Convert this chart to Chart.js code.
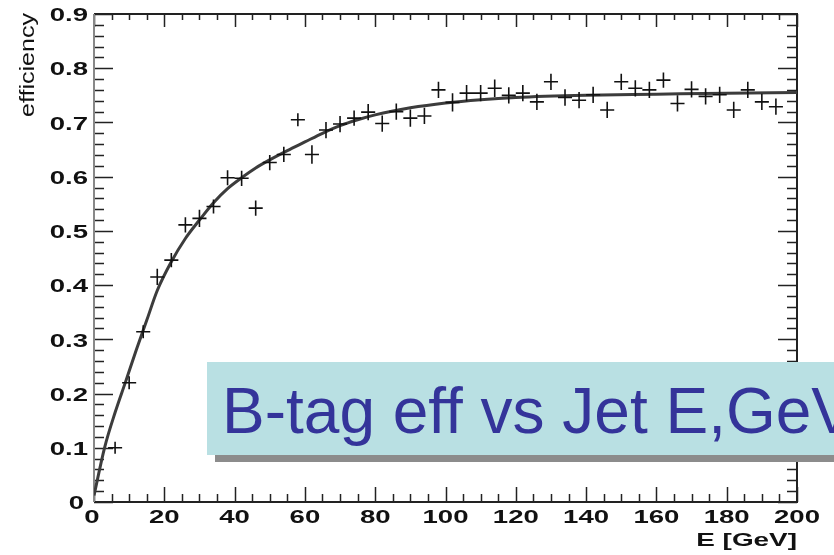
<!DOCTYPE html>
<html>
<head>
<meta charset="utf-8">
<script src="https://cdn.jsdelivr.net/npm/chart.js@4.4.1/dist/chart.umd.min.js"></script>
<style>
  html, body { margin: 0; padding: 0; background: #fff; overflow: hidden; }
  #wrap { position: relative; width: 834px; height: 555px; overflow: hidden; }
  #c { position: absolute; left: 0; top: 0; }
  #box {
    position: absolute; left: 207px; top: 362px; width: 700px; height: 93px;
    background: #b9e0e3; box-shadow: 8px 7px 0 #8c8c8c;
  }
  #boxText {
    position: absolute; left: 222px; top: 379px; white-space: nowrap;
    font-family: "Liberation Sans", Arial, sans-serif; font-size: 64px; line-height: 64px;
    color: #34349a;
  }
</style>
</head>
<body>
<div id="wrap">
  <canvas id="c" width="834" height="555"></canvas>
  <div id="box"></div>
  <div id="boxText">B-tag eff vs Jet E,GeV</div>
</div>
<script>
// ---- data ----
const energy = [6, 10, 14, 18, 22, 26, 30, 34, 38, 42, 46, 50, 54, 58, 62, 66, 70, 74, 78, 82,
                86, 90, 94, 98, 102, 106, 110, 114, 118, 122, 126, 130, 134, 138, 142, 146, 150,
                154, 158, 162, 166, 170, 174, 178, 182, 186, 190, 194];
const efficiency = [0.100, 0.220, 0.314, 0.415, 0.446, 0.511, 0.523, 0.545, 0.598, 0.597, 0.542,
                    0.626, 0.641, 0.705, 0.641, 0.686, 0.697, 0.708, 0.719, 0.698, 0.720, 0.708,
                    0.712, 0.760, 0.737, 0.754, 0.754, 0.763, 0.750, 0.754, 0.738, 0.775, 0.746,
                    0.741, 0.751, 0.723, 0.775, 0.763, 0.760, 0.778, 0.735, 0.761, 0.748, 0.751,
                    0.723, 0.760, 0.738, 0.729];
const effErr = [0.011, 0.012, 0.012, 0.015, 0.013, 0.014, 0.016, 0.013, 0.014, 0.014, 0.014,
                0.014, 0.014, 0.012, 0.017, 0.015, 0.015, 0.014, 0.015, 0.015, 0.015, 0.016,
                0.015, 0.015, 0.017, 0.015, 0.015, 0.016, 0.015, 0.015, 0.015, 0.015, 0.015,
                0.015, 0.015, 0.015, 0.015, 0.015, 0.015, 0.014, 0.015, 0.015, 0.015, 0.015,
                0.015, 0.015, 0.015, 0.015];
const energyErr = 2;
const fitEnergy = [0, 3, 6, 9, 12, 15, 18, 22, 26, 30, 34, 38, 42, 46, 50, 55, 60, 65, 70, 75,
                   80, 90, 100, 110, 120, 140, 160, 180, 200];
const fitEff = [0.012, 0.100, 0.165, 0.222, 0.280, 0.335, 0.390, 0.443, 0.486, 0.520, 0.552,
                0.578, 0.598, 0.616, 0.631, 0.648, 0.664, 0.680, 0.694, 0.705, 0.714, 0.727,
                0.736, 0.742, 0.746, 0.750, 0.752, 0.754, 0.755];
const xTickValues = [0, 20, 40, 60, 80, 100, 120, 140, 160, 180, 200];
const xTickLabels = ["0", "20", "40", "60", "80", "100", "120", "140", "160", "180", "200"];
const yTickValues = [0, 0.1, 0.2, 0.3, 0.4, 0.5, 0.6, 0.7, 0.8, 0.9];
const yTickLabels = ["0", "0.1", "0.2", "0.3", "0.4", "0.5", "0.6", "0.7", "0.8", "0.9"];
const xTitle = "E [GeV]";
const yTitle = "efficiency";

const FONT = '"Liberation Sans", Arial, Helvetica, sans-serif';

function stretchedText(ctx, text, x, y, align, sx) {
  ctx.save();
  ctx.translate(x, y);
  ctx.scale(sx, 1);
  ctx.textAlign = align;
  ctx.fillText(text, 0, 0);
  ctx.restore();
}

const framePlugin = {
  id: 'rootFrame',
  beforeDraw(chart) {
    const ctx = chart.ctx;
    ctx.save();
    ctx.fillStyle = '#ffffff';
    ctx.fillRect(0, 0, chart.width, chart.height);
    ctx.restore();
  },
  beforeDatasetsDraw(chart) {
    const ctx = chart.ctx;
    const xs = chart.scales.x, ys = chart.scales.y;
    const a = chart.chartArea;
    ctx.save();
    // ticks
    ctx.strokeStyle = '#222';
    ctx.lineWidth = 1.5;
    ctx.beginPath();
    for (let i = 0; i <= 40; i++) {
      const px = Math.round(xs.getPixelForValue(i * 5)) + 0.5;
      const major = i % 4 === 0;
      const lb = major ? 15 : 8;
      const lt = major ? 13 : 6;
      ctx.moveTo(px, a.bottom); ctx.lineTo(px, a.bottom - lb);
      ctx.moveTo(px, a.top); ctx.lineTo(px, a.top + lt);
    }
    for (let i = 0; i <= 45; i++) {
      const py = Math.round(ys.getPixelForValue(i * 0.02)) + 0.5;
      const major = i % 5 === 0;
      const l = major ? 19 : 10;
      ctx.moveTo(a.left, py); ctx.lineTo(a.left + l, py);
      ctx.moveTo(a.right, py); ctx.lineTo(a.right - l, py);
    }
    ctx.stroke();
    // frame
    ctx.lineWidth = 2;
    ctx.strokeStyle = '#222';
    ctx.beginPath();
    ctx.moveTo(a.left, a.bottom); ctx.lineTo(a.right, a.bottom);
    ctx.lineTo(a.right, a.top); ctx.lineTo(a.left, a.top);
    ctx.stroke();
    ctx.strokeStyle = '#888';
    ctx.beginPath();
    ctx.moveTo(a.left, a.top); ctx.lineTo(a.left, a.bottom);
    ctx.stroke();

    // tick labels
    ctx.fillStyle = '#111';
    ctx.font = 'bold 19px ' + FONT;
    ctx.textBaseline = 'top';
    xTickValues.forEach((v, i) => {
      stretchedText(ctx, xTickLabels[i], xs.getPixelForValue(v) - (i === 0 ? 2 : 0), a.bottom + 6, 'center', 1.45);
    });
    ctx.textBaseline = 'middle';
    yTickValues.forEach((v, i) => {
      stretchedText(ctx, yTickLabels[i], a.left - 6 - (i === 0 ? 4 : 0), ys.getPixelForValue(v) + 2, 'right', 1.45);
    });
    // axis titles
    ctx.font = 'bold 18px ' + FONT;
    ctx.textBaseline = 'middle';
    stretchedText(ctx, xTitle, a.right, 541, 'right', 1.55);

    ctx.font = '21px ' + FONT;
    ctx.textBaseline = 'alphabetic';
    const w = ctx.measureText(yTitle).width;
    ctx.translate(34, 117);
    ctx.rotate(-Math.PI / 2);
    ctx.scale(104 / w, 1);
    ctx.textAlign = 'left';
    ctx.fillText(yTitle, 0, 0);
    ctx.restore();
  },
  afterDatasetsDraw(chart) {
    const ctx = chart.ctx;
    const xs = chart.scales.x, ys = chart.scales.y;
    ctx.save();
    ctx.strokeStyle = '#111';
    ctx.lineWidth = 1.6;
    ctx.beginPath();
    energy.forEach((e, i) => {
      const y = ys.getPixelForValue(efficiency[i]);
      const x = xs.getPixelForValue(e);
      ctx.moveTo(xs.getPixelForValue(e - energyErr), y);
      ctx.lineTo(xs.getPixelForValue(e + energyErr), y);
      ctx.moveTo(x, ys.getPixelForValue(efficiency[i] - effErr[i]));
      ctx.lineTo(x, ys.getPixelForValue(efficiency[i] + effErr[i]));
    });
    ctx.stroke();
    ctx.restore();
  }
};

new Chart(document.getElementById('c'), {
  type: 'scatter',
  data: {
    datasets: [
      {
        label: 'fit',
        data: fitEnergy.map((e, i) => ({ x: e, y: fitEff[i] })),
        showLine: true,
        borderColor: '#3c3c3c',
        borderWidth: 3,
        pointRadius: 0,
        cubicInterpolationMode: 'monotone',
        fill: false
      },
      {
        label: 'efficiency',
        data: energy.map((e, i) => ({ x: e, y: efficiency[i] })),
        showLine: false,
        pointRadius: 0,
        pointHoverRadius: 0
      }
    ]
  },
  options: {
    responsive: false,
    animation: false,
    devicePixelRatio: 1,
    layout: { padding: { left: 94, right: 37, top: 14, bottom: 53 } },
    plugins: { legend: { display: false }, tooltip: { enabled: false } },
    scales: {
      x: { type: 'linear', min: 0, max: 200, display: false },
      y: { type: 'linear', min: 0, max: 0.9, display: false }
    }
  },
  plugins: [framePlugin]
});
</script>
</body>
</html>
